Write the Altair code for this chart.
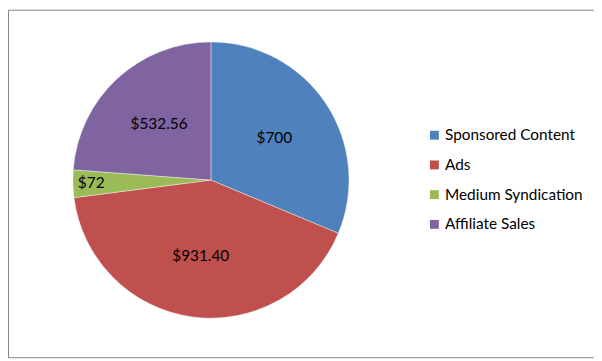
import altair as alt
import pandas as pd

categories = ["Sponsored Content", "Ads", "Medium Syndication", "Affiliate Sales"]
values = [700, 931.40, 72, 532.56]
labels = ["$700", "$931.40", "$72", "$532.56"]
colors = ["#4F81BD", "#C0504D", "#9BBB59", "#8064A2"]
outside_labels = ["$72"]

df = pd.DataFrame({
    "category": categories,
    "value": values,
    "label": labels,
    "idx": list(range(len(categories))),
})

CX, CY, R = 205, 172, 139.5
FONT = "Lato"

outside_expr = "indexof(" + str(outside_labels).replace("'", '"') + ", datum.label) >= 0"

base = alt.Chart(df).transform_calculate(
    inner_label=f"({outside_expr}) ? '' : datum.label",
    outer_label=f"({outside_expr}) ? datum.label : ''",
).encode(
    theta=alt.Theta("value:Q", stack=True),
    order=alt.Order("idx:Q"),
    x=alt.value(CX),
    y=alt.value(CY),
)

pie = base.mark_arc(outerRadius=R, stroke="white", strokeWidth=0.4).encode(
    color=alt.Color(
        "category:N",
        scale=alt.Scale(domain=categories, range=colors),
        sort=categories,
        legend=alt.Legend(
            title=None,
            orient="none",
            legendX=423,
            legendY=119,
            symbolType="square",
            symbolSize=81,
            symbolStrokeWidth=0,
            labelFont=FONT,
            labelFontSize=15.5,
            labelColor="#000000",
            labelOffset=3,
            rowPadding=13,
        ),
    )
)

inner_text = base.mark_text(radius=77, font=FONT, fontSize=15.5, color="#000000").encode(
    text="inner_label:N"
)

outer_text = base.mark_text(radius=121, font=FONT, fontSize=15.5, color="#000000").encode(
    text="outer_label:N"
)

chart = alt.layer(pie, inner_text, outer_text).properties(
    width=592,
    height=351,
    padding=0,
    autosize=alt.AutoSizeParams(type="none"),
).configure_view(stroke="#868686", strokeWidth=1)

chart.save("out.html", embed_options={"renderer": "svg", "actions": False})
